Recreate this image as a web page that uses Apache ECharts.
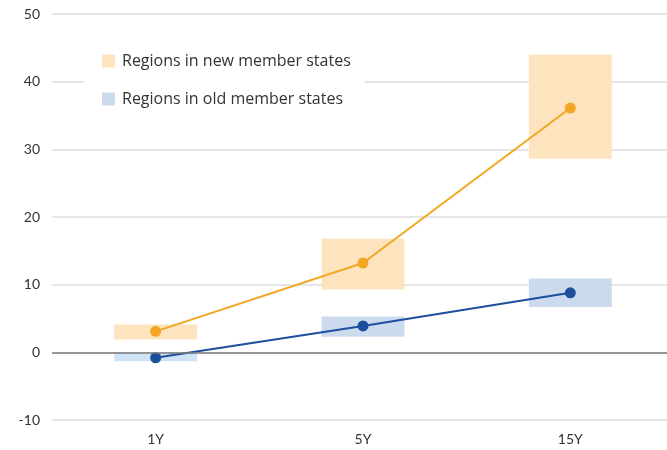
<!DOCTYPE html>
<html><head><meta charset="utf-8">
<script src="https://cdn.jsdelivr.net/npm/echarts@6/dist/echarts.min.js"></script>
<style>html,body{margin:0;padding:0;background:#fff}#c{width:667px;height:450px}</style>
</head><body><div id="c"></div>
<script>
const categories = ['1Y', '5Y', '15Y'];
const newPoint = [3.1, 13.2, 36.1];
const newLow = [1.9, 9.3, 28.6];
const newHigh = [4.1, 16.8, 44.0];
const oldPoint = [-0.8, 3.9, 8.8];
const oldLow = [-1.3, 2.3, 6.7];
const oldHigh = [0.0, 5.3, 10.9];
const yTicks = [-10, 0, 10, 20, 30, 40, 50];

const NEW_NAME = 'Regions in new member states';
const OLD_NAME = 'Regions in old member states';
const ORANGE = '#f2a623', ORANGE_BOX = '#fde4bf';
const BLUE = '#1c4f9c', BLUE_BOX = '#ccdaee', BLUE_BOX_LIGHT = '#cfe3f7';
const FONT = 'Lato';

function boxRender(colorFn) {
  return function (params, api) {
    const c = api.value(0);
    const lo = api.coord([c, api.value(1)]);
    const hi = api.coord([c, api.value(2)]);
    const bw = api.size([1, 0])[0] * 0.4;
    return {
      type: 'rect',
      shape: { x: lo[0] - bw / 2, y: hi[1], width: bw, height: lo[1] - hi[1] },
      style: { fill: colorFn(params.dataIndex) }
    };
  };
}

const chart = echarts.init(document.getElementById('c'));
chart.setOption({
  animation: false,
  textStyle: { fontFamily: FONT },
  grid: { left: 52, width: 622, top: 14, bottom: 30, outerBoundsMode: 'none', containLabel: false },
  legend: {
    data: [NEW_NAME, OLD_NAME],
    orient: 'vertical', left: 84, top: 41,
    backgroundColor: '#fff',
    padding: [12, 14, 12, 18],
    itemWidth: 13, itemHeight: 13, itemGap: 22,
    icon: 'rect',
    textStyle: { fontSize: 16, color: '#333', fontFamily: 'Open Sans', padding: [0, 0, 0, 2] },
    selectedMode: false
  },
  xAxis: {
    type: 'category', data: categories,
    axisLine: { show: false }, axisTick: { show: false },
    axisLabel: { fontSize: 14, color: '#333', margin: 12 }
  },
  yAxis: {
    type: 'value', min: yTicks[0], max: yTicks[yTicks.length - 1], interval: 10,
    axisLabel: { fontSize: 14, color: '#333', margin: 12 },
    splitLine: { lineStyle: { color: '#dedede', width: 1.5 } },
    axisLine: { show: false }, axisTick: { show: false }
  },
  series: [
    {
      name: NEW_NAME, type: 'custom', z: 1,
      itemStyle: { color: ORANGE_BOX },
      renderItem: boxRender(() => ORANGE_BOX),
      encode: { x: 0, y: [1, 2] },
      data: categories.map((c, i) => [i, newLow[i], newHigh[i]])
    },
    {
      name: OLD_NAME, type: 'custom', z: 1,
      itemStyle: { color: BLUE_BOX },
      renderItem: boxRender(i => i === 0 ? BLUE_BOX_LIGHT : BLUE_BOX),
      encode: { x: 0, y: [1, 2] },
      data: categories.map((c, i) => [i, oldLow[i], oldHigh[i]])
    },
    {
      type: 'line', z: 3, data: newPoint,
      symbol: 'circle', symbolSize: 11,
      lineStyle: { color: ORANGE, width: 2 }, itemStyle: { color: ORANGE },
      markLine: {
        silent: true, symbol: 'none', label: { show: false },
        lineStyle: { color: '#7a7a7a', width: 1.5, type: 'solid' },
        data: [{ yAxis: 0 }]
      }
    },
    {
      type: 'line', z: 3, data: oldPoint,
      symbol: 'circle', symbolSize: 11,
      lineStyle: { color: BLUE, width: 2 }, itemStyle: { color: BLUE }
    }
  ]
});
</script></body></html>
